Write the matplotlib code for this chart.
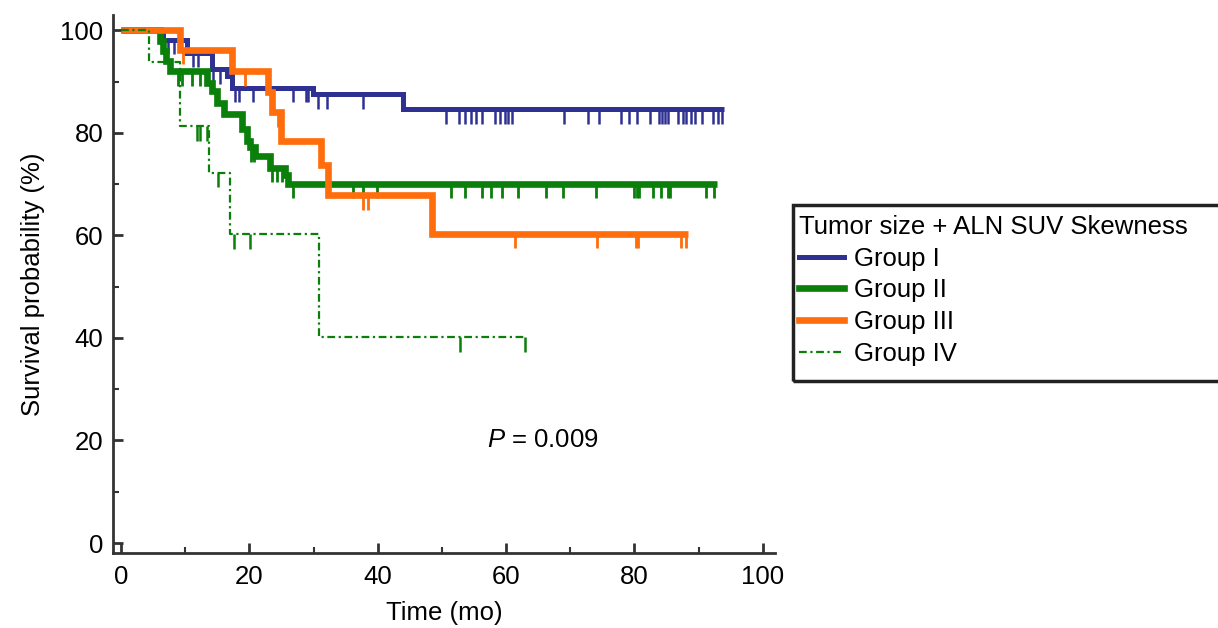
import numpy as np
import matplotlib
matplotlib.use('Agg')
import matplotlib.pyplot as plt
from matplotlib.lines import Line2D
from matplotlib.patches import Rectangle

plt.rcParams['font.family'] = ['Liberation Sans', 'DejaVu Sans']
plt.rcParams['mathtext.fontset'] = 'custom'
plt.rcParams['mathtext.it'] = 'Liberation Sans:italic'
plt.rcParams['mathtext.rm'] = 'Liberation Sans'

# Group I
g1_t = [0, 6.5, 10.3, 14.1, 16.5, 17.3, 29.9, 43.9]
g1_s = [100, 98.2, 95.6, 92.4, 91.1, 88.8, 87.5, 84.6]
g1_end = 94.0
g1_c = [7.3, 8.2, 11.2, 12.0, 14.3, 15.4, 17.8, 18.4, 20.6, 26.8, 28.8, 29.1,
        30.7, 32.1, 37.7, 50.7, 52.6, 53.6, 54.6, 55.3, 56.2, 58.3, 59.0, 59.8,
        60.3, 60.9, 69.0, 72.7, 74.5, 77.9, 79.1, 80.4, 82.5, 83.8, 84.3, 84.8,
        85.3, 86.8, 87.5, 88.1, 88.8, 89.4, 90.5, 92.2, 93.0, 93.6]

# Group II
g2_t = [0, 6.0, 6.5, 7.0, 7.6, 13.4, 14.2, 15.0, 16.0, 18.8, 19.6, 20.1, 20.9, 23.2, 25.6, 26.0]
g2_s = [100, 98.0, 96.0, 94.0, 92.0, 89.8, 88.1, 85.9, 83.6, 80.7, 78.4, 77.2, 75.4, 73.2, 71.7, 70.1]
g2_end = 92.8
g2_c = [8.9, 9.5, 11.0, 12.3, 20.3, 20.7, 23.5, 24.3, 25.1, 26.8, 36.1, 37.7,
        39.9, 51.4, 53.6, 56.2, 57.6, 59.3, 61.8, 66.2, 68.9, 74.0, 80.0, 80.4,
        80.7, 82.9, 84.1, 85.2, 85.5, 91.1, 92.4]

# Group III
g3_t = [0, 9.2, 17.3, 22.9, 23.5, 25.0, 31.2, 32.2, 48.5]
g3_s = [100, 96.2, 92.0, 88.0, 84.0, 78.4, 73.8, 67.8, 60.3]
g3_end = 88.3
g3_c = [9.6, 19.3, 24.5, 37.7, 38.5, 61.4, 74.1, 80.3, 80.6, 87.2, 88.1]

# Group IV
g4_t = [0, 4.3, 9.2, 13.7, 17.0, 30.9]
g4_s = [100, 93.8, 81.3, 72.2, 60.2, 40.1]
g4_end = 63.0
g4_c = [11.8, 12.3, 13.4, 15.1, 17.6, 20.1, 52.8, 62.9]

labels = ['Group I', 'Group II', 'Group III', 'Group IV']
p_text = '0.009'


def km(ax, t, s, end, cens, color, lw, ls, clw):
    tt = list(t) + [end]
    ss = list(s) + [s[-1]]
    ax.step(tt, ss, where='post', color=color, lw=lw, linestyle=ls,
            solid_capstyle='butt', solid_joinstyle='miter')
    idx = np.searchsorted(t, cens, side='right') - 1
    lev = np.array(s)[idx]
    ax.vlines(cens, lev - 2.8, lev, color=color, lw=clw)


fig = plt.figure(figsize=(12.18, 6.28), dpi=100)
ax = fig.add_axes([113 / 1218, 1 - 553 / 628, (775 - 113) / 1218, (553 - 15) / 628])

blue = '#2e3192'
green = '#0a7f0a'
orange = '#ff6d0d'
dd = (0, (3.5, 1.6, 1.0, 1.6))
fs = 18.5

km(ax, g1_t, g1_s, g1_end, g1_c, blue, 3.6, '-', 1.8)
km(ax, g2_t, g2_s, g2_end, g2_c, green, 4.8, '-', 2.0)
km(ax, g3_t, g3_s, g3_end, g3_c, orange, 4.8, '-', 2.0)
km(ax, g4_t, g4_s, g4_end, g4_c, green, 1.6, dd, 1.8)

ax.set_xlim(-1.25, 101.9)
ax.set_ylim(-1.95, 103)
ax.spines['top'].set_visible(False)
ax.spines['right'].set_visible(False)
for sp in ['left', 'bottom']:
    ax.spines[sp].set_linewidth(2.0)
    ax.spines[sp].set_color('#333333')

ax.set_xticks(np.arange(0, 101, 20))
ax.set_xticks(np.arange(10, 100, 20), minor=True)
ax.set_yticks(np.arange(0, 101, 20))
ax.set_yticks(np.arange(10, 100, 20), minor=True)
ax.tick_params(which='major', direction='in', length=7.2, width=2.0, color='#333333',
               labelsize=fs, pad=7)
ax.tick_params(axis='x', which='major', pad=9)
ax.tick_params(which='minor', direction='in', length=4.5, width=1.5, color='#333333')

ax.set_xlabel('Time (mo)', fontsize=fs, labelpad=8)
ax.set_ylabel('Survival probability (%)', fontsize=fs, labelpad=11)

ax.text(57, 20, '$\\mathit{P}$ = ' + p_text, fontsize=fs, va='center', ha='left')

handles = [Line2D([], [], color=blue, lw=3.6),
           Line2D([], [], color=green, lw=4.8),
           Line2D([], [], color=orange, lw=4.8),
           Line2D([], [], color=green, lw=1.6, linestyle=dd)]
leg = fig.legend(handles, labels, title='Tumor size + ALN SUV Skewness',
                 loc='upper left', bbox_to_anchor=(799 / 1218, 1 - 215 / 628),
                 frameon=False, fontsize=fs, title_fontsize=fs, alignment='left',
                 handlelength=1.75, handletextpad=0.4, labelspacing=0.3,
                 borderpad=0, borderaxespad=0)
fig.patches.append(Rectangle((793 / 1218, 1 - 381 / 628), 0.5, (381 - 205) / 628,
                             transform=fig.transFigure, fill=False,
                             edgecolor='#222222', lw=2.5))

fig.savefig('out.png', dpi=100)
